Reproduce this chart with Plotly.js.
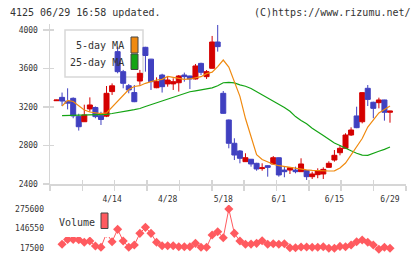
<!DOCTYPE html>
<html>
<head>
<meta charset="utf-8">
<script src="https://cdn.plot.ly/plotly-3.0.1.min.js"></script>
<style>
  html, body { margin: 0; padding: 0; background: #fff; }
  #chart { width: 420px; height: 259px; }
</style>
</head>
<body>
<div id="chart"></div>
<script>
// Trading days (M/D)
const dates = ['3/31','4/1','4/4','4/5','4/6','4/7','4/8','4/11','4/12','4/13','4/14','4/15','4/18','4/19','4/20','4/21','4/22','4/25','4/26','4/27','4/28','5/2','5/6','5/9','5/10','5/11','5/12','5/13','5/16','5/17','5/18','5/19','5/20','5/23','5/24','5/25','5/26','5/27','5/30','5/31','6/1','6/2','6/3','6/6','6/7','6/8','6/9','6/10','6/13','6/14','6/15','6/16','6/17','6/20','6/21','6/22','6/23','6/24','6/27','6/28','6/29'];

// Daily prices
const openP  = [3265,3300,3260,3290,3100,3047,3180,3195,3110,3105,3360,3775,3567,3421,3350,3470,3820,3697,3400,3532,3440,3440,3452,3532,3522,3491,3653,3515,3602,3875,3342,3065,2823,2743,2632,2657,2615,2560,2590,2608,2673,2545,2545,2545,2528,2540,2476,2497,2504,2573,2649,2725,2771,2909,3107,3047,3394,3249,3245,3273,3145];
const highP  = [3275,3350,3394,3300,3130,3224,3300,3205,3150,3418,3445,3827,3585,3439,3428,3585,3825,3700,3508,3545,3515,3498,3532,3557,3525,3647,3660,3584,3938,4052,3366,3070,2875,2753,2719,2660,2620,2615,2595,2690,2675,2580,2572,2580,2667,2545,2528,2563,2573,2636,2753,2805,2927,2989,3203,3352,3428,3255,3297,3275,3160];
const lowP   = [3265,3210,3175,3083,2955,3045,3150,3083,3013,3095,3325,3550,3394,3342,3250,3430,3567,3377,3395,3350,3411,3377,3360,3463,3387,3485,3532,3491,3600,3775,3130,2771,2649,2615,2630,2580,2538,2538,2476,2605,2476,2470,2504,2511,2525,2442,2452,2460,2452,2570,2632,2698,2768,2899,2980,3030,3210,3083,3186,3058,3037];
const closeP = [3272,3262,3240,3107,2995,3117,3221,3100,3070,3342,3420,3567,3446,3377,3255,3550,3735,3463,3463,3411,3480,3463,3522,3515,3491,3626,3560,3567,3875,3827,3134,2823,2701,2667,2673,2608,2556,2568,2573,2673,2494,2528,2569,2528,2608,2476,2504,2537,2552,2615,2698,2771,2909,2961,2985,3349,3279,3186,3273,3145,3158];

// Moving averages
const ma5  = [null,3210,3268,3257,3210,3169,3148,3138,3132,3138,3200,3265,3325,3382,3413,3421,3446,3463,3480,3487,3517,3508,3498,3487,3491,3501,3515,3546,3562,3620,3688,3615,3470,3310,3080,2885,2705,2655,2628,2605,2590,2580,2572,2566,2556,2547,2541,2537,2535,2535,2537,2566,2618,2701,2784,2873,2992,3065,3138,3174,3210];
const ma25 = [null,3110,3112,3114,3116,3117,3117,3117,3120,3124,3132,3140,3152,3163,3172,3184,3205,3224,3243,3258,3282,3300,3320,3340,3358,3368,3378,3388,3398,3420,3452,3455,3450,3430,3415,3392,3360,3325,3295,3262,3232,3195,3155,3100,3060,3025,2980,2945,2905,2865,2826,2800,2770,2745,2720,2700,2697,2715,2740,2760,2785];

// Daily volume
const volume = [null,43700,76000,76000,74000,56800,65300,32600,24000,116400,61000,142000,65300,24000,39000,115700,155000,115700,56800,34500,34500,34500,28000,28000,28000,50000,24000,24000,104600,126000,87000,275600,115700,65300,43700,45000,50000,67300,43700,47000,43700,47000,21400,21400,26000,26000,24000,24000,28000,17500,17500,30000,28000,39000,61000,72000,56800,39000,11000,24000,17500];

// Axis labels
const dateTicks   = ['4/14','4/28','5/18','6/1','6/15','6/29'];
const priceTicks  = [2400, 2800, 3200, 3600, 4000];
const volumeTicks = [17500, 146550, 275600];

const W = 420, H = 259;
const fx = p => p / W;
const fy = p => 1 - p / H;

const idx = dates.map((d, i) => i);
const dateTickVals = dateTicks.map(d => dates.indexOf(d));

const UP = '#d40000', DOWN = '#4040c0';
const ORANGE = '#f08a10', GREEN = '#14a414', VOL = '#ff5a5f';
const AXIS = '#d6d6d6';
const MONO = 'DejaVu Sans Mono, monospace';

const xRange = [-1.17, 62.88];
const xGrid = { tick0: -1.17, dtick: 5.822 };

const traces = [
  {
    type: 'candlestick', x: idx, open: openP, high: highP, low: lowP, close: closeP,
    xaxis: 'x', yaxis: 'y', whiskerwidth: 0, hoverinfo: 'skip',
    increasing: { line: { color: UP, width: 1 }, fillcolor: UP },
    decreasing: { line: { color: DOWN, width: 1 }, fillcolor: DOWN }
  },
  {
    type: 'scatter', mode: 'lines', x: idx, y: ma25, xaxis: 'x', yaxis: 'y',
    line: { color: GREEN, width: 1.2 }, hoverinfo: 'skip'
  },
  {
    type: 'scatter', mode: 'lines', x: idx, y: ma5, xaxis: 'x', yaxis: 'y',
    line: { color: ORANGE, width: 1.2 }, hoverinfo: 'skip'
  },
  {
    type: 'scatter', mode: 'lines+markers', x: idx, y: volume, xaxis: 'x2', yaxis: 'y2',
    line: { color: VOL, width: 1 }, marker: { symbol: 'diamond', size: 7, color: VOL },
    connectgaps: false, hoverinfo: 'skip'
  },
  // carries the inner halves of the crossing tick marks
  { type: 'scatter', x: [null], y: [null], xaxis: 'x3', yaxis: 'y3', hoverinfo: 'skip' }
];

const layout = {
  width: W, height: H,
  margin: { l: 0, r: 0, t: 0, b: 0 },
  paper_bgcolor: '#ffffff', plot_bgcolor: 'rgba(0,0,0,0)',
  showlegend: false, boxgap: 0.1, boxgroupgap: 0,
  font: { family: MONO, size: 8, color: '#333' },
  xaxis: {
    domain: [fx(50), fx(406)], range: xRange, anchor: 'y',
    tickmode: 'linear', tick0: xGrid.tick0, dtick: xGrid.dtick,
    ticks: 'outside', ticklen: 5, tickwidth: 1.5, tickcolor: AXIS,
    showticklabels: false, showgrid: false, zeroline: false,
    showline: true, linecolor: AXIS, linewidth: 1.5,
    rangeslider: { visible: false }, fixedrange: true
  },
  yaxis: {
    domain: [fy(184), fy(24.2)], range: [2400, 4060], anchor: 'x',
    tickvals: priceTicks, ticktext: priceTicks.map(String),
    ticks: 'outside', ticklen: 6, tickwidth: 1.5, tickcolor: AXIS,
    ticklabelstandoff: 3,
    showgrid: false, zeroline: false,
    showline: true, linecolor: AXIS, linewidth: 1.5, fixedrange: true
  },
  xaxis3: {
    overlaying: 'x', anchor: 'y3', range: xRange,
    tickmode: 'linear', tick0: xGrid.tick0, dtick: xGrid.dtick,
    ticks: 'inside', ticklen: 4, tickwidth: 1.5, tickcolor: AXIS,
    showticklabels: false, showgrid: false, zeroline: false, showline: false, fixedrange: true
  },
  yaxis3: {
    overlaying: 'y', anchor: 'x3', range: [2400, 4060],
    tickvals: priceTicks, ticks: 'inside', ticklen: 4, tickwidth: 1.5, tickcolor: AXIS,
    showticklabels: false, showgrid: false, zeroline: false, showline: false, fixedrange: true
  },
  xaxis2: {
    domain: [fx(50), fx(406)], range: xRange, anchor: 'y2', side: 'top',
    tickvals: dateTickVals, ticktext: dateTicks, ticks: '',
    showgrid: false, zeroline: false, showline: false, fixedrange: true
  },
  yaxis2: {
    domain: [fy(254), fy(205)], range: [-19930, 301870], anchor: 'x2',
    tickvals: volumeTicks, ticktext: volumeTicks.map(String), ticks: '',
    ticklabelstandoff: 5,
    showgrid: false, zeroline: false, showline: false, fixedrange: true
  },
  shapes: [
    // moving-average legend box
    { type: 'rect', xref: 'paper', yref: 'paper', layer: 'below',
      x0: fx(65), x1: fx(143), y0: fy(77), y1: fy(30),
      fillcolor: '#ffffff', line: { color: '#d8d8d8', width: 1.5 } },
    { type: 'rect', xref: 'paper', yref: 'paper', layer: 'above',
      x0: fx(131), x1: fx(138), y0: fy(53), y1: fy(37),
      fillcolor: ORANGE, line: { color: '#444', width: 1 } },
    { type: 'rect', xref: 'paper', yref: 'paper', layer: 'above',
      x0: fx(131), x1: fx(138), y0: fy(69.5), y1: fy(54),
      fillcolor: GREEN, line: { color: '#444', width: 1 } },
    // volume legend
    { type: 'rect', xref: 'paper', yref: 'paper', layer: 'above',
      x0: fx(55), x1: fx(111), y0: fy(237), y1: fy(208),
      fillcolor: '#ffffff', line: { width: 0 } },
    { type: 'rect', xref: 'paper', yref: 'paper', layer: 'above',
      x0: fx(101), x1: fx(108), y0: fy(228.5), y1: fy(213),
      fillcolor: VOL, line: { color: '#444', width: 1 } }
  ],
  annotations: [
    { text: '4125 06/29 16:58 updated.', xref: 'paper', yref: 'paper',
      x: fx(8), y: fy(12), xanchor: 'left', yanchor: 'middle', showarrow: false,
      font: { family: MONO, size: 10, color: '#333' } },
    { text: '(C)https://www.rizumu.net/', xref: 'paper', yref: 'paper',
      x: fx(413), y: fy(12), xanchor: 'right', yanchor: 'middle', showarrow: false,
      font: { family: MONO, size: 10, color: '#333' } },
    { text: '5-day MA', xref: 'paper', yref: 'paper',
      x: fx(126), y: fy(46), xanchor: 'right', yanchor: 'middle', showarrow: false,
      font: { family: MONO, size: 10, color: '#333' } },
    { text: '25-day MA', xref: 'paper', yref: 'paper',
      x: fx(126), y: fy(63), xanchor: 'right', yanchor: 'middle', showarrow: false,
      font: { family: MONO, size: 10, color: '#333' } },
    { text: 'Volume', xref: 'paper', yref: 'paper',
      x: fx(57), y: fy(222), xanchor: 'left', yanchor: 'middle', showarrow: false,
      font: { family: MONO, size: 10, color: '#333' } }
  ]
};

Plotly.newPlot('chart', traces, layout, { staticPlot: true, displayModeBar: false });
</script>
</body>
</html>
